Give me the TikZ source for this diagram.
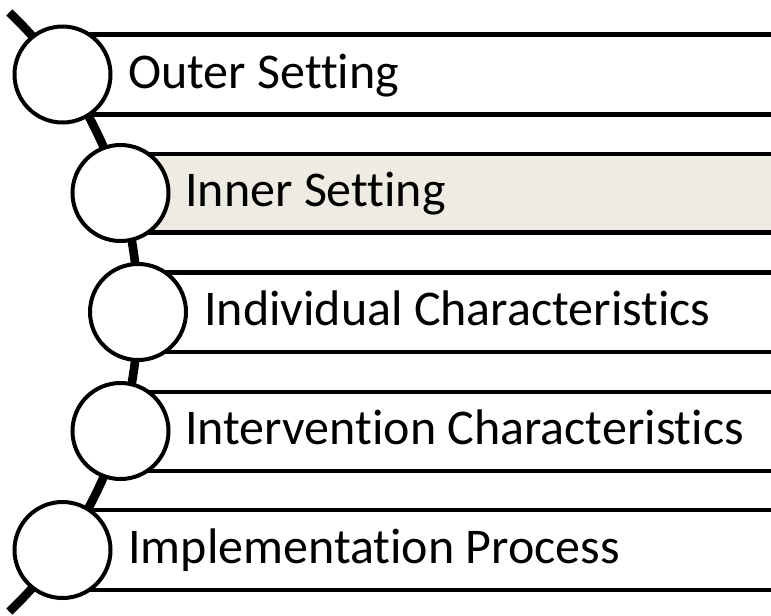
\documentclass[tikz,border=0pt]{standalone}
\usepackage{fontspec}
\setmainfont[Ligatures=NoCommon]{Carlito}
\definecolor{beige}{RGB}{238,235,226}
\begin{document}
\begin{tikzpicture}[x=0.75pt,y=-0.75pt,
  bandline/.style={line width=3.4pt},
  ring/.style={circle,draw,fill=white,line width=3pt,minimum size=72pt,inner sep=0pt},
  lbl/.style={anchor=base west,inner sep=0pt,font=\fontsize{37.5}{44}\selectfont}]
\useasboundingbox (0,0) rectangle (771,615);
\clip (0,0) rectangle (771,615);
% bands
\fill[beige] (120.5,154) rectangle (780,232.5);
\foreach \t/\b/\x in {34.5/114.5/62.5, 154/232.5/120.5, 272.5/352/138, 392/471/120.5, 510/590/62.5}{
  \draw[bandline] (\x,\t) -- (780,\t);
  \draw[bandline] (\x,\b) -- (780,\b);
}
% arc
\draw[line width=6.5pt] plot[domain=-46.5:46.5,samples=60,smooth] ({-275+413*cos(\x)},{312+413*sin(\x)});
% circles
\node[ring] (c1) at (62.5,74.5) {};
\node[ring] (c2) at (120.5,193) {};
\node[ring] (c3) at (138,312) {};
\node[ring] (c4) at (120.5,431) {};
\node[ring] (c5) at (62.5,550) {};
% labels
\node[lbl] (t1) at (128,88) {Outer Setting};
\node[lbl] (t2) at (185,206.5) {Inner Setting};
\node[lbl] (t3) at (204,325.5) {Individual Characteristics};
\node[lbl] (t4) at (185,444.5) {Intervention Characteristics};
\node[lbl] (t5) at (128,563.5) {Implementation Process};
\end{tikzpicture}
\end{document}
